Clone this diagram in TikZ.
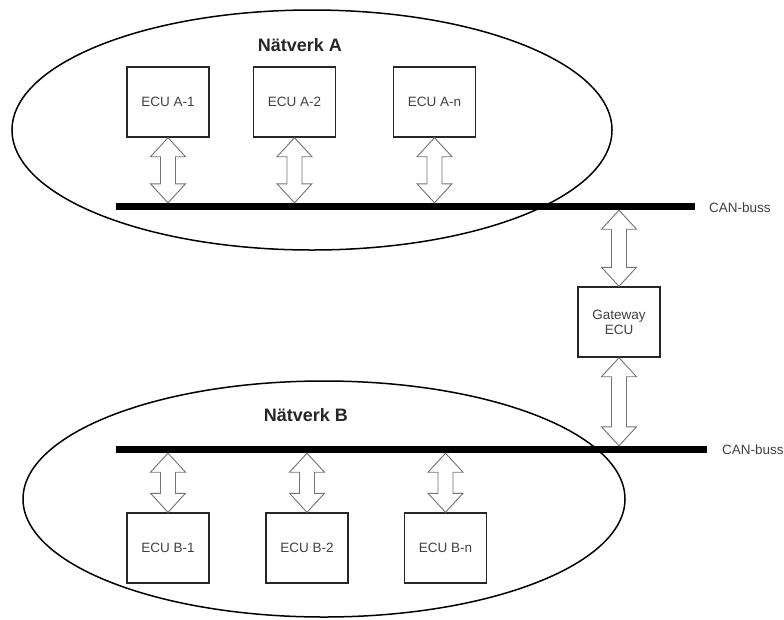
\documentclass[tikz,border=0pt]{standalone}
\usepackage{fontspec}
\setmainfont{Liberation Sans}
\usetikzlibrary{calc}
\tikzset{
  ecubox/.style={draw=black!85, line width=1.4pt, minimum width=82pt, minimum height=70pt, inner sep=0pt, font=\fontsize{13.5}{15}\selectfont, text=black!75, fill=white, align=center},
  bus/.style={fill=black, draw=none, inner sep=0pt, minimum height=7pt},
  net/.style={draw=black, line width=1.5pt},
  nettitle/.style={font=\fontsize{18}{20}\selectfont\bfseries, text=black!85},
  buslabel/.style={font=\fontsize{13.5}{15}\selectfont, text=black!75, anchor=west, inner sep=0pt},
  dblarrow/.style={draw=black!55, line width=0.9pt, fill=white, line join=miter}
}
\newcommand{\dblarr}[2]{%
  \path[dblarrow] let \p1=#1, \p2=#2 in
    (\x1,\y1) -- (\x1+17.5pt,\y1-19pt) -- (\x1+7.5pt,\y1-19pt) -- (\x1+7.5pt,\y2+19pt)
    -- (\x1+17.5pt,\y2+19pt) -- (\x1,\y2) -- (\x1-17.5pt,\y2+19pt) -- (\x1-7.5pt,\y2+19pt)
    -- (\x1-7.5pt,\y1-19pt) -- (\x1-17.5pt,\y1-19pt) -- cycle;}
\begin{document}
\begin{tikzpicture}[x=1pt, y=-1pt]
\useasboundingbox (0,0) rectangle (784,619);
% networks
\draw[net] (312,130) ellipse [x radius=300, y radius=120];
\draw[net] (324,499) ellipse [x radius=301, y radius=118];
\node[nettitle] (titleA) at (300,45) {Nätverk A};
\node[nettitle] (titleB) at (306,415) {Nätverk B};
% buses
\node[bus, minimum width=579pt] (busA) at (405.5,206.5) {};
\node[bus, minimum width=591pt] (busB) at (411.5,449.5) {};
\node[buslabel] (lblA) at (709,207.5) {CAN-buss};
\node[buslabel] (lblB) at (722,450) {CAN-buss};
% ECUs
\node[ecubox] (a1) at (168,102) {ECU A-1};
\node[ecubox] (a2) at (294.5,102) {ECU A-2};
\node[ecubox] (an) at (434.5,102) {ECU A-n};
\node[ecubox] (b1) at (168,548) {ECU B-1};
\node[ecubox] (b2) at (307,548) {ECU B-2};
\node[ecubox] (bn) at (445.5,548) {ECU B-n};
\node[ecubox] (gw) at (619,322) {Gateway\\ECU};
% arrows
\dblarr{(a1.south)}{(a1.south |- busA.north)}
\dblarr{(a2.south)}{(a2.south |- busA.north)}
\dblarr{(an.south)}{(an.south |- busA.north)}
\dblarr{(b1.north |- busB.south)}{(b1.north)}
\dblarr{(b2.north |- busB.south)}{(b2.north)}
\dblarr{(bn.north |- busB.south)}{(bn.north)}
\dblarr{(gw.north |- busA.south)}{(gw.north)}
\dblarr{(gw.south)}{(gw.south |- busB.north)}
\end{tikzpicture}
\end{document}
